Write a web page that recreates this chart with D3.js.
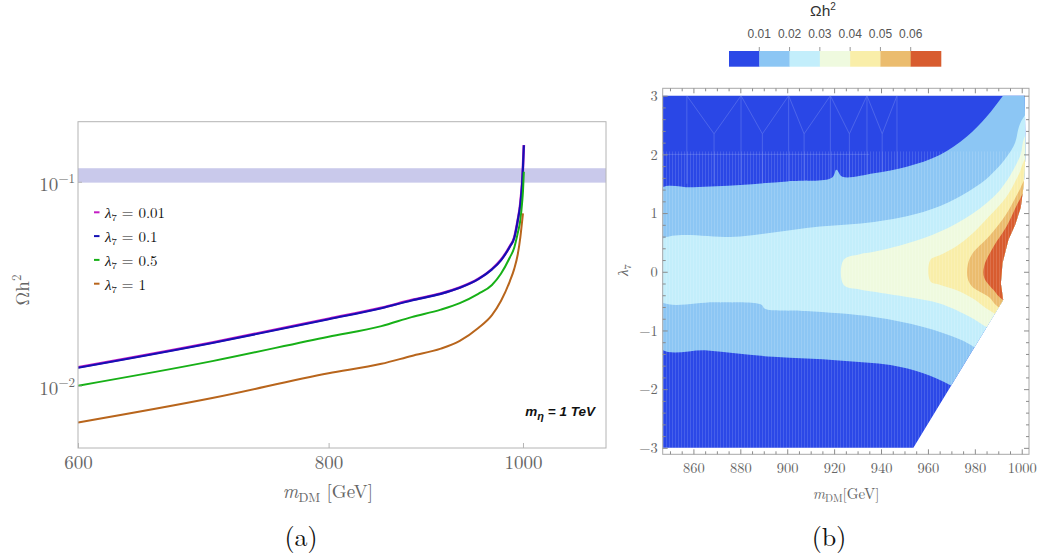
<!DOCTYPE html>
<html>
<head>
<meta charset="utf-8">
<script src="https://cdn.jsdelivr.net/npm/d3@7"></script>
<style>
  body { margin: 0; background: #fff; }
  svg { display: block; }
  .serif { font-family: "Latin Modern Roman", "Liberation Serif", "DejaVu Serif", serif; }
  .sans { font-family: "Liberation Sans", Arial, sans-serif; }
</style>
</head>
<body>
<svg id="chart" width="1040" height="559"></svg>
<script>

/* ---------- panel (a) data ---------- */
var massA = [600, 700, 800, 850, 880, 910, 930, 950, 965, 975, 985, 990, 994, 997, 999, 1000, 1001]
var omegaL001 = [0.01232, 0.0163, 0.0213, 0.0241, 0.0263, 0.0283, 0.0303, 0.0334, 0.0373, 0.0414, 0.0482, 0.0533, 0.0648, 0.0784, 0.0985, 0.1185, 0.1515]
var omegaL01 = [0.01225, 0.0162, 0.0212, 0.0240, 0.0262, 0.0282, 0.0302, 0.0333, 0.0372, 0.0412, 0.0480, 0.0530, 0.0645, 0.078, 0.098, 0.118, 0.151]
var omegaL05 = [0.0100, 0.0132, 0.0174, 0.0196, 0.0217, 0.0236, 0.0254, 0.0282, 0.0312, 0.0354, 0.0425, 0.0475, 0.0560, 0.0650, 0.0790, 0.0900, 0.112]
var omegaL1 = [0.0066, 0.0087, 0.0115, 0.0128, 0.0140, 0.0152, 0.0166, 0.0192, 0.0222, 0.0260, 0.0325, 0.0374, 0.0440, 0.0535, 0.0640, 0.0700, null]
var legendLabels = ["0.01", "0.1", "0.5", "1"]
var curveColors = ["#c41cc4", "#1410b4", "#17b017", "#b8651c"]
var planckBand = [0.099, 0.1165]
var xTicksA = [600, 800, 1000]
var yTicksA = [0.1, 0.01]

/* ---------- panel (b) data ---------- */
var xTicksB = [860, 880, 900, 920, 940, 960, 980, 1000]
var yTicksB = [-3, -2, -1, 0, 1, 2, 3]
var cbLevels = [0.01, 0.02, 0.03, 0.04, 0.05, 0.06]
var cbColors = ["#2b48e7", "#8cc6f4", "#c3eefb", "#effadf", "#f9eea9", "#ebbc6e", "#d85c2f"]

// edge of the scanned parameter region [mDM, lambda7]
var scanEdge = [[846.9, 3], [1001.3, 3], [1001.6, 2], [1000.9, 1.5], [999.6, 1.1], [997.2, 0.8], [994.3, 0.54],
  [991.8, 0.15], [991.1, -0.2], [992.1, -0.48], [953.8, -3], [846.9, -3]]

// contour boundaries (upper / lower edge of each level band)
var edge001Up = [[845, 1.39], [860, 1.44], [880, 1.48], [900, 1.54], [919, 1.6], [921, 1.74], [923.5, 1.62], [937, 1.68],
  [951, 1.79], [965, 1.99], [976.5, 2.3], [985, 2.64], [992, 3.0], [1000, 3.4], [1030, 3.8]]
var edge001Lo = [[845, -1.28], [866, -1.34], [894, -1.45], [922, -1.51], [944, -1.59], [958, -1.73], [969.4, -1.93], [985, -2.3], [1030, -2.8]]
var edge002Up = [[845, 0.51], [880, 0.6], [914, 0.77], [937, 0.85], [958, 1.02], [972, 1.25], [986, 1.62], [996.4, 2.13], [1000.6, 2.62], [1030, 3.6]]
var edge002Lo = [[845, -0.48], [870, -0.52], [889, -0.56], [890.5, -0.63], [908, -0.67], [937, -0.77], [958, -0.94], [974, -1.16], [985, -1.4], [1030, -2.2]]
var edge003Up = [[924, 0.2], [931, 0.3], [937, 0.34], [951, 0.48], [965, 0.68], [979, 0.99], [990.7, 1.39], [999.2, 1.96], [1002, 2.35], [1030, 3.2]]
var edge003Lo = [[924, -0.22], [931, -0.3], [937, -0.34], [951, -0.43], [965, -0.54], [978, -0.77], [985, -0.94], [1030, -1.9]]
var edge004Up = [[961, 0.2], [965, 0.28], [972, 0.43], [979, 0.65], [986, 0.94], [993.5, 1.28], [999, 1.68], [1002, 1.95], [1030, 2.8]]
var edge004Lo = [[961, -0.16], [965, -0.22], [972, -0.31], [979, -0.45], [986, -0.65], [1030, -1.6]]
var edge005Up = [[977, 0.12], [979, 0.31], [986, 0.6], [993.5, 0.99], [999, 1.39], [1002, 1.6], [1030, 2.4]]
var edge005Lo = [[977, -0.12], [979, -0.26], [986, -0.43], [990, -0.6], [1030, -1.4]]
var edge006Up = [[984, 0.1], [988, 0.43], [993.5, 0.77], [999, 1.22], [1002, 1.4], [1030, 2.0]]
var edge006Lo = [[984, -0.1], [988, -0.31], [992, -0.48], [1030, -1.2]]

// faint mesh seen in the top-left (< 0.01) corner: peaks at lambda = 3, valleys at lambda ~ 2.35
var meshPeaks = [857.2, 880.3, 900.6, 918.4, 934, 946.8]
var meshValleys = [868.8, 889.4, 907.2, 926.5, 940.5]

var svg = d3.select("#chart")

/* ================= panel (a) ================= */
var xA = d3.scaleLog().domain([600, 1100]).range([78, 606])
var yA = d3.scaleLog().domain([0.00495, 0.197]).range([448, 121.7])

svg.append("clipPath").attr("id", "clipA")
  .append("rect").attr("x", 78).attr("y", 121.7).attr("width", 528).attr("height", 326.3)

var gA = svg.append("g")

/* Planck band */
gA.append("rect")
  .attr("x", 78).attr("width", 528)
  .attr("y", yA(planckBand[1]))
  .attr("height", yA(planckBand[0]) - yA(planckBand[1]))
  .attr("fill", "#c9c9eb")

/* curves */
var lineA = d3.line()
  .defined((d) => d[1] != null)
  .x((d) => xA(d[0]))
  .y((d) => yA(d[1]))
  .curve(d3.curveMonotoneX)

var series = [omegaL001, omegaL01, omegaL05, omegaL1]
var widths = [2.6, 2.1, 2.0, 2.0]
series.forEach((vals, i) => {
  gA.append("path")
    .attr("clip-path", "url(#clipA)")
    .attr("d", lineA(massA.map((m, j) => [m, vals[j]])))
    .attr("fill", "none")
    .attr("stroke", curveColors[i])
    .attr("stroke-width", widths[i])
})

/* frame */
gA.append("rect")
  .attr("x", 78).attr("y", 121.7).attr("width", 528).attr("height", 326.3)
  .attr("fill", "none").attr("stroke", "#b4b4b4").attr("stroke-width", 1)

/* axes */
var xAxisA = d3.axisBottom(xA).tickValues(xTicksA).tickSize(-5).tickPadding(8).tickFormat(d3.format("d"))
var gx = gA.append("g").attr("transform", "translate(0,448)").call(xAxisA)
gx.select(".domain").remove()
gx.selectAll("line").attr("stroke", "#b4b4b4")
gx.selectAll("text").attr("class", "serif").attr("font-size", 19).attr("fill", "#666")

var yAxisA = d3.axisLeft(yA).tickValues(yTicksA).tickSize(-4).tickFormat("")
var gy = gA.append("g").attr("transform", "translate(78,0)").call(yAxisA)
gy.select(".domain").remove()
gy.selectAll("line").attr("stroke", "#b4b4b4")

gA.selectAll("text.ylab")
  .data(yTicksA)
  .enter()
    .append("text")
      .attr("class", "serif ylab")
      .attr("x", 75)
      .attr("y", (d) => yA(d) + 9)
      .attr("text-anchor", "end")
      .attr("fill", "#666")
      .attr("font-size", 19)
      .each(function (d) {
        var t = d3.select(this)
        t.append("tspan").text("10")
        t.append("tspan").attr("dy", -8).attr("font-size", 13).text("\u2212" + Math.round(-Math.log10(d)))
      })

/* axis titles */
var xtA = gA.append("text").attr("class", "serif").attr("x", 328).attr("y", 498)
  .attr("text-anchor", "middle").attr("font-size", 19).attr("fill", "#666")
xtA.append("tspan").attr("font-style", "italic").text("m")
xtA.append("tspan").attr("dy", 4).attr("font-size", 13).text("DM")
xtA.append("tspan").attr("dy", -4).text(" [GeV]")

var ytA = gA.append("text").attr("class", "serif")
  .attr("transform", "translate(29,290) rotate(-90)")
  .attr("text-anchor", "middle").attr("font-size", 19).attr("fill", "#666")
ytA.append("tspan").text("\u03A9h")
ytA.append("tspan").attr("dy", -8).attr("font-size", 13).text("2")

/* legend */
var legA = gA.selectAll("g.leg")
  .data(legendLabels)
  .enter()
    .append("g")
      .attr("class", "leg")
      .attr("transform", (d, i) => "translate(0," + (213.3 + i * 23.8) + ")")

legA.append("line")
  .attr("x1", 94).attr("x2", 99.5).attr("y1", -1).attr("y2", -1)
  .attr("stroke", (d, i) => curveColors[i]).attr("stroke-width", 2)

legA.append("text")
  .attr("class", "serif")
  .attr("x", 105).attr("y", 5)
  .attr("font-size", 15).attr("fill", "#111")
  .each(function (d) {
    var t = d3.select(this)
    t.append("tspan").attr("font-style", "italic").text("\u03BB")
    t.append("tspan").attr("dy", 3).attr("font-size", 10.5).text("7")
    t.append("tspan").attr("dy", -3).text(" = " + d)
  })

/* annotation */
var note = gA.append("text").attr("class", "sans")
  .attr("x", 595).attr("y", 416).attr("text-anchor", "end")
  .attr("font-size", 13.5).attr("font-weight", "bold").attr("font-style", "italic").attr("fill", "#111")
note.append("tspan").text("m")
note.append("tspan").attr("dy", 4).attr("font-size", 11).text("\u03B7")
note.append("tspan").attr("dy", -4).text(" = 1 TeV")

/* ================= panel (b) ================= */
var xB = d3.scaleLinear().domain([846.9, 1003.1]).range([662.7, 1029])
var yB = d3.scaleLinear().domain([-3.11, 3.126]).range([454.3, 88.3])

var defs = svg.append("defs")
defs.append("clipPath").attr("id", "clipScan")
  .append("path")
    .attr("d", d3.line().x((d) => xB(d[0])).y((d) => yB(d[1])).curve(d3.curveLinearClosed)(scanEdge))

var pat = defs.append("pattern").attr("id", "stripes")
  .attr("patternUnits", "userSpaceOnUse").attr("width", 3).attr("height", 20)
pat.append("rect").attr("width", 1).attr("height", 20).attr("fill", "#fff").attr("opacity", 0.13)

var gB = svg.append("g").attr("clip-path", "url(#clipScan)")

var polyB = d3.line().x((d) => xB(d[0])).y((d) => yB(d[1])).curve(d3.curveCatmullRomClosed.alpha(0.5))

/* base level (< 0.01) */
gB.append("rect")
  .attr("x", xB(846.9)).attr("y", yB(3.2))
  .attr("width", xB(1003.1) - xB(846.9)).attr("height", yB(-3.2) - yB(3.2))
  .attr("fill", cbColors[0])

/* mesh lines in the dark corner */
var meshG = gB.append("g").attr("stroke", "#7b90f0").attr("stroke-width", 0.7).attr("fill", "none").attr("opacity", 0.6)
var zig = []
meshPeaks.forEach((p, i) => {
  zig.push([p, 3])
  if (i < meshValleys.length) zig.push([meshValleys[i], 2.35])
})
meshG.append("path").attr("d", d3.line().x((d) => xB(d[0])).y((d) => yB(d[1]))(zig))
meshG.selectAll("line.v")
  .data(meshPeaks.concat(meshValleys))
  .enter()
    .append("line")
      .attr("x1", (d) => xB(d)).attr("x2", (d) => xB(d))
      .attr("y1", (d, i) => yB(i < meshPeaks.length ? 3 : 2.35)).attr("y2", yB(1.5))
meshG.append("line")
  .attr("x1", xB(846.9)).attr("x2", xB(935)).attr("y1", yB(2)).attr("y2", yB(2))

var bands = [
  [edge001Up, edge001Lo],
  [edge002Up, edge002Lo],
  [edge003Up, edge003Lo],
  [edge004Up, edge004Lo],
  [edge005Up, edge005Lo],
  [edge006Up, edge006Lo]
]

gB.selectAll("path.band")
  .data(bands)
  .enter()
    .append("path")
      .attr("class", "band")
      .attr("d", (d) => polyB(d[0].concat(d[1].slice().reverse())))
      .attr("fill", (d, i) => cbColors[i + 1])

gB.append("rect")
  .attr("x", xB(846.9)).attr("y", yB(2.05))
  .attr("width", xB(1003.1) - xB(846.9)).attr("height", yB(-3.2) - yB(2.05))
  .attr("fill", "url(#stripes)")

/* frame + ticks */
var fB = svg.append("g")
fB.append("rect")
  .attr("x", 662.7).attr("y", 88.3).attr("width", 1029 - 662.7).attr("height", 454.3 - 88.3)
  .attr("fill", "none").attr("stroke", "#a8a8a8")

var minorX = d3.range(850, 1003, 5).filter((v) => v % 20 != 0)
var minorY = d3.range(-3, 3.01, 0.2).map((v) => Math.round(v * 10) / 10).filter((v) => Math.abs(v % 1) > 0.01)

function styleAxis(g) {
  g.select(".domain").remove()
  g.selectAll("line").attr("stroke", "#8c8c8c")
  g.selectAll("text").attr("class", "serif").attr("font-size", 14.5).attr("fill", "#666")
}

fB.append("g").attr("transform", "translate(0,454.3)")
  .call(d3.axisBottom(xB).tickValues(xTicksB).tickSize(-5).tickPadding(8).tickFormat(d3.format("d"))).call(styleAxis)
fB.append("g").attr("transform", "translate(0,454.3)")
  .call(d3.axisBottom(xB).tickValues(minorX).tickSize(-3).tickFormat("")).call(styleAxis)
fB.append("g").attr("transform", "translate(0,88.3)")
  .call(d3.axisTop(xB).tickValues(xTicksB).tickSize(-5).tickFormat("")).call(styleAxis)
fB.append("g").attr("transform", "translate(0,88.3)")
  .call(d3.axisTop(xB).tickValues(minorX).tickSize(-3).tickFormat("")).call(styleAxis)
fB.append("g").attr("transform", "translate(662.7,0)")
  .call(d3.axisLeft(yB).tickValues(yTicksB).tickSize(-5).tickPadding(5).tickFormat((d) => d < 0 ? "\u2212" + (-d) : d)).call(styleAxis)
fB.append("g").attr("transform", "translate(662.7,0)")
  .call(d3.axisLeft(yB).tickValues(minorY).tickSize(-3).tickFormat("")).call(styleAxis)
fB.append("g").attr("transform", "translate(1029,0)")
  .call(d3.axisRight(yB).tickValues(yTicksB).tickSize(-5).tickFormat("")).call(styleAxis)
fB.append("g").attr("transform", "translate(1029,0)")
  .call(d3.axisRight(yB).tickValues(minorY).tickSize(-3).tickFormat("")).call(styleAxis)

/* titles */
var xtB = svg.append("text").attr("class", "serif").attr("x", 846).attr("y", 499)
  .attr("text-anchor", "middle").attr("font-size", 15).attr("fill", "#666")
xtB.append("tspan").attr("font-style", "italic").text("m")
xtB.append("tspan").attr("dy", 3).attr("font-size", 10.5).text("DM")
xtB.append("tspan").attr("dy", -3).text("[GeV]")

var ytB = svg.append("text").attr("class", "serif")
  .attr("transform", "translate(628,270) rotate(-90)")
  .attr("text-anchor", "middle").attr("font-size", 15).attr("fill", "#666")
ytB.append("tspan").attr("font-style", "italic").text("\u03BB")
ytB.append("tspan").attr("dy", 3).attr("font-size", 10.5).text("7")

/* colour bar */
var cbX = d3.scaleLinear().domain([0, 7]).range([729, 941])
var cb = svg.append("g")
cb.selectAll("rect")
  .data(cbColors)
  .enter()
    .append("rect")
      .attr("x", (d, i) => cbX(i))
      .attr("width", cbX(1) - cbX(0) + 0.3)
      .attr("y", 51).attr("height", 15.7)
      .attr("fill", (d) => d)

cb.selectAll("line")
  .data(cbLevels)
  .enter()
    .append("line")
      .attr("x1", (d, i) => cbX(i + 1)).attr("x2", (d, i) => cbX(i + 1))
      .attr("y1", 47).attr("y2", 51)
      .attr("stroke", "#999")

cb.selectAll("text.cbl")
  .data(cbLevels)
  .enter()
    .append("text")
      .attr("class", "sans cbl")
      .attr("x", (d, i) => cbX(i + 1))
      .attr("y", 38)
      .attr("text-anchor", "middle")
      .attr("font-size", 12).attr("fill", "#555")
      .text((d) => d.toFixed(2))

var cbt = cb.append("text").attr("class", "sans").attr("x", 823).attr("y", 16)
  .attr("text-anchor", "middle").attr("font-size", 15.5).attr("fill", "#333")
cbt.append("tspan").text("\u03A9h")
cbt.append("tspan").attr("dy", -6).attr("font-size", 10).text("2")

/* panel captions */
svg.append("text").attr("class", "serif").attr("x", 301).attr("y", 546)
  .attr("text-anchor", "middle").attr("font-size", 26).attr("fill", "#111").text("(a)")
svg.append("text").attr("class", "serif").attr("x", 829).attr("y", 546)
  .attr("text-anchor", "middle").attr("font-size", 26).attr("fill", "#111").text("(b)")

</script>
</body>
</html>
